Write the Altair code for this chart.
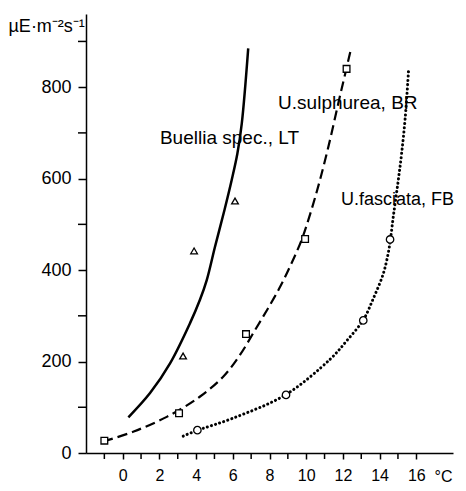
import altair as alt
import pandas as pd

# Curves (temperature °C, irradiance µE m-2 s-1)
buellia_cx = [0.31, 1.49, 2.58, 3.67, 4.21, 4.58, 5.03, 5.55, 5.94, 6.25, 6.49, 6.84]
buellia_cy = [78, 131, 196, 284, 335, 378, 451, 532, 597, 655, 721, 885]
sulph_cx = [-1.06, 0.6, 2.4, 4.2, 5.5, 6.4, 7.2, 7.9, 8.6, 9.2, 9.75, 10.25, 10.75, 11.3, 11.75, 12.1, 12.45]
sulph_cy = [25, 47, 79, 123, 168, 215, 268, 315, 365, 415, 466, 527, 597, 685, 765, 825, 885]
fasc_cx = [3.3, 4.03, 6.0, 8.9, 11.3, 12.2, 13.11, 13.66, 14.2, 14.47, 14.6, 14.76, 15.0, 15.2, 15.4, 15.58]
fasc_cy = [37, 49, 76, 128, 205, 245, 291, 338, 392, 437, 470, 521, 591, 655, 735, 838]

# Measured points
buellia_px = [3.29, 3.89, 6.12]
buellia_py = [212, 442, 551]
sulph_px = [-1.0, 3.07, 6.72, 9.94, 12.2]
sulph_py = [27, 87, 260, 468, 840]
fasc_px = [4.07, 8.9, 13.11, 14.57]
fasc_py = [50, 127, 290, 467]

# Axis ticks
x_major = [0, 2, 4, 6, 8, 10, 12, 14, 16]
x_minor = [-1, 1, 3, 5, 7, 9, 11, 13, 15]
y_major = [0, 200, 400, 600, 800]
y_minor = [100, 300, 500, 700, 900]

# Curve labels
label_text = ["Buellia spec., LT", "U.sulphurea, BR", "U.fasciata, FB"]
label_x = [2.03, 8.47, 11.9]
label_y = [689, 765, 553]
label_size = [19, 19, 18]

FONT = "Liberation Sans"
H = 439

xscale = alt.Scale(domain=[-2, 18], nice=False, zero=False)
yscale = alt.Scale(domain=[0, 960], nice=False, zero=False)

common = dict(grid=False, tickWidth=1.5, domainWidth=1.5,
              domainColor="black", tickColor="black", labelColor="black",
              labelFont=FONT, labelOverlap=False, titleFont=FONT,
              titleColor="black", titleFontWeight="normal")

xaxis = alt.Axis(
    values=x_major, tickSize=6, labelFontSize=16, labelPadding=8,
    title="°C", titleX=357, titleY=28, titleAngle=0, titleAlign="center",
    titleBaseline="alphabetic", titleFontSize=16, **common,
)
yaxis = alt.Axis(
    values=y_major, tickSize=8, labelFontSize=18, labelPadding=7,
    title="µE·m⁻²s⁻¹", titleX=-78, titleY=17, titleAngle=0, titleAlign="left",
    titleBaseline="alphabetic", titleFontSize=18, **common,
)


def curve(xs, ys, dash, width, xa=None, ya=None):
    df = pd.DataFrame({"x": xs, "y": ys, "o": list(range(len(xs)))})
    kw = dict(color="black", strokeWidth=width, interpolate="catmull-rom")
    if dash:
        kw["strokeDash"] = dash
        kw["strokeCap"] = "round" if dash[0] < 1 else "butt"
    return alt.Chart(df).mark_line(**kw).encode(
        x=alt.X("x:Q", scale=xscale, axis=xa),
        y=alt.Y("y:Q", scale=yscale, axis=ya),
        order="o:Q",
    )


def pts(xs, ys, shape, size):
    df = pd.DataFrame({"x": xs, "y": ys})
    return alt.Chart(df).mark_point(
        shape=shape, filled=True, fill="white", stroke="black",
        strokeWidth=1.3, size=size, opacity=1,
    ).encode(x=alt.X("x:Q", scale=xscale), y=alt.Y("y:Q", scale=yscale))


# minor ticks (unlabelled) drawn as short rules just outside the axes
xminor_rules = alt.Chart(pd.DataFrame({"t": x_minor})).mark_rule(
    color="black", strokeWidth=1.5
).encode(x=alt.X("t:Q", scale=xscale), y=alt.value(H), y2=alt.value(H + 6))
yminor_rules = alt.Chart(pd.DataFrame({"t": y_minor})).mark_rule(
    color="black", strokeWidth=1.5
).encode(y=alt.Y("t:Q", scale=yscale), x=alt.value(-8), x2=alt.value(0))

labels = alt.Chart(
    pd.DataFrame({"t": label_text, "x": label_x, "y": label_y, "s": label_size})
).mark_text(
    align="left", baseline="middle", font=FONT, color="black"
).encode(
    x=alt.X("x:Q", scale=xscale),
    y=alt.Y("y:Q", scale=yscale),
    text="t:N",
    size=alt.Size("s:Q", scale=None, legend=None),
)

chart = alt.layer(
    curve(buellia_cx, buellia_cy, None, 2.5, xaxis, yaxis),
    curve(sulph_cx, sulph_cy, [10, 5], 2.2, xaxis, yaxis),
    curve(fasc_cx, fasc_cy, [0.1, 4.2], 3, xaxis, yaxis),
    xminor_rules,
    yminor_rules,
    pts(buellia_px, buellia_py, "triangle-up", 45),
    pts(sulph_px, sulph_py, "square", 45),
    pts(fasc_px, fasc_py, "circle", 55),
    labels,
).properties(
    width=367, height=H,
    padding={"left": 78, "top": 6, "right": 5, "bottom": 30},
    autosize=alt.AutoSizeParams(type="none"),
    background="white",
).configure_view(stroke=None).configure_axis(labelOverlap=False)

chart.save("out.html", embed_options={"renderer": "svg", "actions": False})
